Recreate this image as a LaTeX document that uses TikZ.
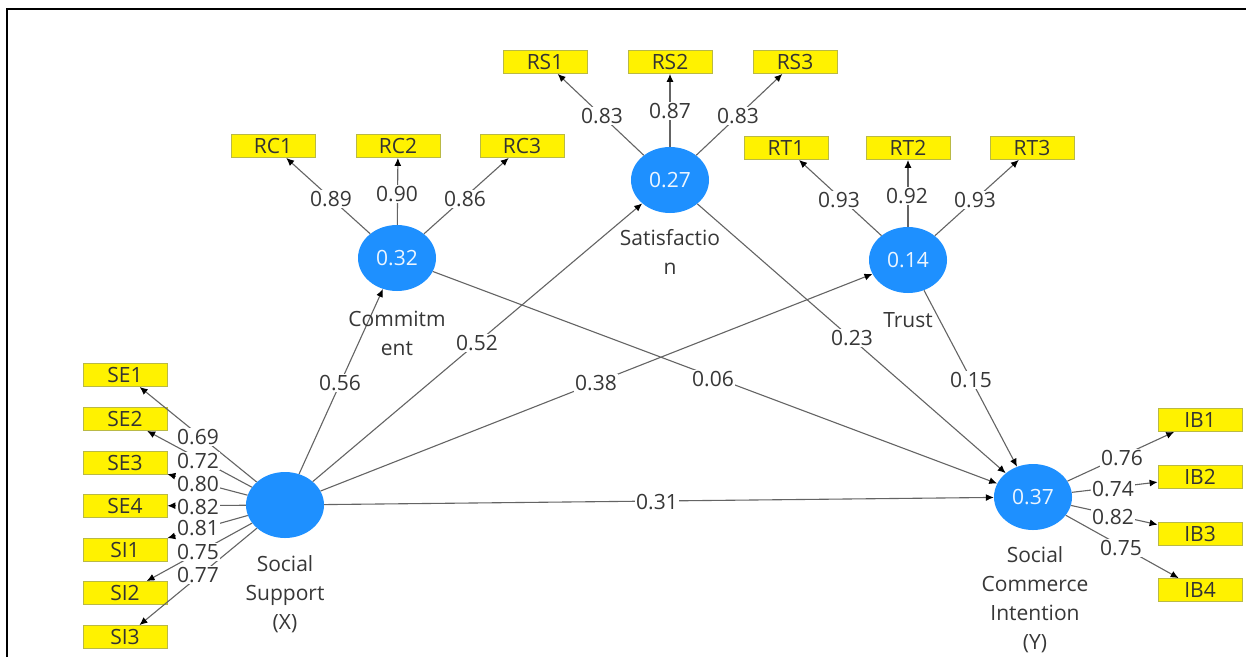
\documentclass[tikz,border=0pt]{standalone}
\usepackage{fontspec}
\setmainfont{Open Sans}
\usetikzlibrary{arrows.meta,shapes.geometric}
\definecolor{lvblue}{RGB}{30,144,255}
\definecolor{txt}{RGB}{55,55,55}
\definecolor{ln}{RGB}{100,100,100}
\definecolor{yedge}{RGB}{185,185,70}
\begin{document}
\begin{tikzpicture}[x=1pt,y=-1pt,
  lv/.style={ellipse, fill=lvblue, minimum width=78pt, minimum height=66pt, inner sep=0pt, text=white!92!lvblue, font=\fontsize{21}{25}\selectfont},
  ind/.style={rectangle, fill=yellow, draw=yedge, line width=0.8pt, minimum width=84pt, minimum height=23pt, inner sep=0pt, text=black!80, font=\fontsize{21}{25}\selectfont},
  lbl/.style={fill=white, inner sep=1.2pt, text=txt, font=\fontsize{21}{25}\selectfont},
  lvname/.style={align=center, text=txt, font=\fontsize{21}{29}\selectfont},
  arr/.style={draw=ln, line width=1.1pt, -{Latex[length=8pt,width=7pt,color=black]}}
]
\useasboundingbox (0,0) rectangle (1246,657);
\fill[white] (0,0) rectangle (1246,657);
\draw[line width=2pt] (7,657) -- (7,9) -- (1246,9);

% latent variables
\node[lv] (com) at (397,258) {0.32};
\node[lv] (sat) at (670,180) {0.27};
\node[lv] (tru) at (908,260) {0.14};
\node[lv] (ss)  at (285,505) {};
\node[lv] (sci) at (1033,497) {0.37};

% indicators
\node[ind] (rs1) at (545,62) {RS1};
\node[ind] (rs2) at (670,62) {RS2};
\node[ind] (rs3) at (795,62) {RS3};
\node[ind] (rc1) at (273,146) {RC1};
\node[ind] (rc2) at (398,146) {RC2};
\node[ind] (rc3) at (522,146) {RC3};
\node[ind] (rt1) at (786,148) {RT1};
\node[ind] (rt2) at (908,148) {RT2};
\node[ind] (rt3) at (1032,148) {RT3};
\node[ind] (se1) at (125,375) {SE1};
\node[ind] (se2) at (125,419) {SE2};
\node[ind] (se3) at (125,463) {SE3};
\node[ind] (se4) at (125,506) {SE4};
\node[ind] (si1) at (125,550) {SI1};
\node[ind] (si2) at (125,593) {SI2};
\node[ind] (si3) at (125,637) {SI3};
\node[ind] (ib1) at (1200,420) {IB1};
\node[ind] (ib2) at (1200,477) {IB2};
\node[ind] (ib3) at (1200,534) {IB3};
\node[ind] (ib4) at (1200,590) {IB4};

% outer loadings
\foreach \a/\b in {com/rc1,com/rc2,com/rc3,sat/rs1,sat/rs2,sat/rs3,tru/rt1,tru/rt2,tru/rt3,
  ss/se1,ss/se2,ss/se3,ss/se4,ss/si1,ss/si2,ss/si3,sci/ib1,sci/ib2,sci/ib3,sci/ib4}
  \draw[arr] (\a) -- (\b);

% structural paths
\draw[arr] (ss) -- (com);
\draw[arr] (ss) -- (sat);
\draw[arr] (ss) -- (tru);
\draw[arr] (ss) -- (sci);
\draw[arr] (com) -- (sci);
\draw[arr] (sat) -- (sci);
\draw[arr] (tru) -- (sci);

% loading labels
\node[lbl] (l89) at (331,199) {0.89};
\node[lbl] (l90) at (397,194) {0.90};
\node[lbl] (l86) at (465,199) {0.86};
\node[lbl] (l83a) at (602,116) {0.83};
\node[lbl] (l87) at (670,111) {0.87};
\node[lbl] (l83b) at (738,116) {0.83};
\node[lbl] (l93a) at (839,200) {0.93};
\node[lbl] (l92) at (907,196) {0.92};
\node[lbl] (l93b) at (975,200) {0.93};
\node[lbl] (l77) at (198,575) {0.77};
\node[lbl] (l75a) at (198,552) {0.75};
\node[lbl] (l81) at (198,528) {0.81};
\node[lbl] (l82a) at (198,507) {0.82};
\node[lbl] (l80) at (198,484) {0.80};
\node[lbl] (l72) at (198,461) {0.72};
\node[lbl] (l69) at (198,437) {0.69};
\node[lbl] (l75b) at (1121,548) {0.75};
\node[lbl] (l82b) at (1113,517) {0.82};
\node[lbl] (l74) at (1113,489) {0.74};
\node[lbl] (l76) at (1122,458) {0.76};

% path labels
\node[lbl] (p56) at (340,383) {0.56};
\node[lbl] (p52) at (477,343) {0.52};
\node[lbl] (p38) at (596,383) {0.38};
\node[lbl] (p06) at (713,379) {0.06};
\node[lbl] (p23) at (852,338) {0.23};
\node[lbl] (p15) at (971,380) {0.15};
\node[lbl] (p31) at (657,502) {0.31};

% construct names
\node[lvname] (ncom) at (397,333) {Commitm\\ent};
\node[lvname] (nsat) at (670,252) {Satisfactio\\n};
\node[lvname] (ntru) at (908,320) {Trust};
\node[lvname] (nss)  at (285,594) {Social\\Support\\(X)};
\node[lvname] (nsci) at (1035,600) {Social\\Commerce\\Intention\\(Y)};
\end{tikzpicture}
\end{document}
